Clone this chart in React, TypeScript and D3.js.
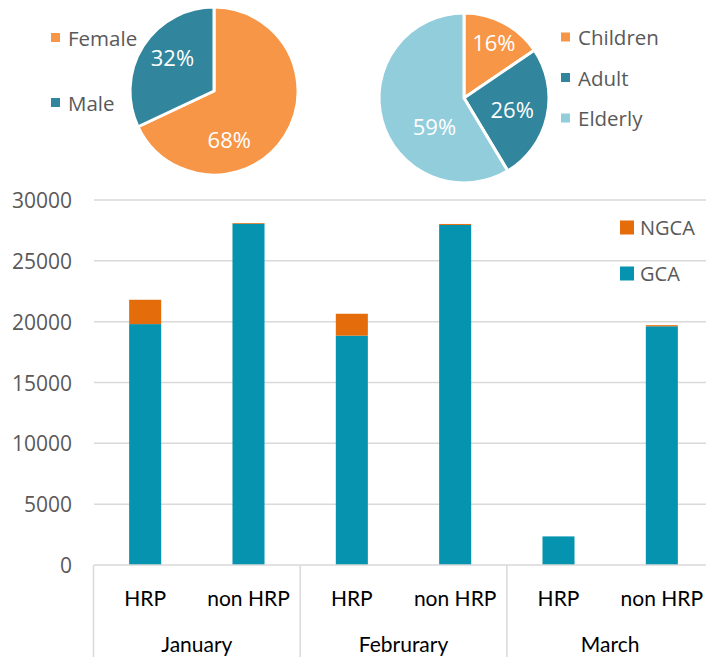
import React from "react";
import * as d3 from "d3";

// chart values
const genderLabels = ["Female", "Male"];
const genderValues = [68, 32];

const ageLabels = ["Children", "Adult", "Elderly"];
const ageValues = [15.5, 25.9, 58.6];

const months = ["January", "Februrary", "March"];
const programs = ["HRP", "non HRP"];
const gcaValues = [19800, 28050, 18850, 27950, 2350, 19620];
const ngcaValues = [2000, 60, 1800, 80, 0, 90];
const seriesNames = ["NGCA", "GCA"];
const yTicks = [0, 5000, 10000, 15000, 20000, 25000, 30000];

const W = 706;
const H = 657;
const grey = "#595959";
const gridColor = "#D9D9D9";
const valueFont = "'Open Sans', sans-serif";
const catFont = "Lato, 'Liberation Sans', sans-serif";

const pieColors = ["#F79646", "#31859C", "#92CDDC"];
const barColors = { GCA: "#0593AF", NGCA: "#E46C0A" };

// label placement (Excel's best-fit pushes some labels around)
const genderLabelPos = [
  { r: 0.6, shift: 40 },
  { r: 0.64, shift: 7 },
];
const ageLabelPos = [
  { r: 0.75, shift: 0 },
  { r: 0.58, shift: 0 },
  { r: 0.48, shift: -28 },
];

type PieProps = {
  cx: number;
  cy: number;
  r: number;
  values: number[];
  labelPos: { r: number; shift: number }[];
};

function Pie({ cx, cy, r, values, labelPos }: PieProps) {
  const arcs = d3.pie<number>().sort(null).value((d) => d)(values);
  const arc = d3.arc<d3.PieArcDatum<number>>().innerRadius(0).outerRadius(r);
  return (
    <g transform={`translate(${cx},${cy})`}>
      {arcs.map((a, i) => (
        <path key={i} d={arc(a) || ""} fill={pieColors[i]} stroke="#fff" strokeWidth={3} strokeLinejoin="round" />
      ))}
      {arcs.map((a, i) => {
        const mid = (a.startAngle + a.endAngle) / 2 + (labelPos[i].shift * Math.PI) / 180;
        const lr = r * labelPos[i].r;
        return (
          <text
            key={i}
            x={Math.sin(mid) * lr}
            y={-Math.cos(mid) * lr}
            textAnchor="middle"
            dominantBaseline="central"
            fill="#fff"
            fontFamily={valueFont}
            fontSize={22}
          >
            {d3.format(".0f")(a.data)}%
          </text>
        );
      })}
    </g>
  );
}

export default function App() {
  const cats = months.flatMap((m) => programs.map((p) => `${m}|${p}`));
  const x = d3.scaleBand<string>().domain(cats).range([93.5, 713.5]).paddingInner(0.69).paddingOuter(0.345);
  const y = d3.scaleLinear().domain([0, 30000]).range([565, 200]);
  const plotLeft = 94;
  const step = x.step();

  const stacked = d3
    .stack<number>()
    .keys(["GCA", "NGCA"])
    .value((i, key) => (key === "GCA" ? gcaValues[i] : ngcaValues[i]))(d3.range(cats.length));

  return (
    <svg width={W} height={H} style={{ position: "absolute", left: 0, top: 0, background: "#fff" }}>
      {/* pies */}
      <Pie cx={214} cy={91} r={84} values={genderValues} labelPos={genderLabelPos} />
      <Pie cx={464} cy={98} r={85} values={ageValues} labelPos={ageLabelPos} />

      {genderLabels.map((l, i) => (
        <g key={l} transform={`translate(51,${37.5 + i * 65})`}>
          <rect x={0} y={-4.5} width={9} height={9} fill={pieColors[i]} />
          <text x={17} y={0} dominantBaseline="central" fontFamily={valueFont} fontSize={20.5} fill={grey}>
            {l}
          </text>
        </g>
      ))}
      {ageLabels.map((l, i) => (
        <g key={l} transform={`translate(561,${37 + i * 40.5})`}>
          <rect x={0} y={-4.5} width={9} height={9} fill={pieColors[i]} />
          <text x={17} y={0} dominantBaseline="central" fontFamily={valueFont} fontSize={20.5} fill={grey}>
            {l}
          </text>
        </g>
      ))}

      {/* grid */}
      {yTicks.map((t) => (
        <g key={t}>
          {t > 0 && <line x1={plotLeft} x2={W} y1={y(t)} y2={y(t)} stroke={gridColor} strokeWidth={1.5} />}
          <text x={72} y={y(t)} textAnchor="end" dominantBaseline="central" fontFamily={valueFont} fontSize={21} fill={grey}>
            {t}
          </text>
        </g>
      ))}

      {/* bars */}
      {stacked.map((s) => (
        <g key={s.key} fill={barColors[s.key as "GCA" | "NGCA"]}>
          {s.map((d, i) =>
            d[1] - d[0] > 0 ? (
              <rect key={i} x={x(cats[i])} y={y(d[1])} width={x.bandwidth()} height={y(d[0]) - y(d[1])} />
            ) : null
          )}
        </g>
      ))}

      {/* category axis */}
      <line x1={plotLeft} x2={W} y1={y(0)} y2={y(0)} stroke={gridColor} strokeWidth={1.5} />
      {d3.range(months.length + 1).map((i) => {
        const xx = 93.5 + i * step * programs.length;
        return <line key={i} x1={xx} x2={xx} y1={y(0)} y2={H} stroke={gridColor} strokeWidth={1.5} />;
      })}
      {cats.map((c) => (
        <text
          key={c}
          x={(x(c) || 0) + x.bandwidth() / 2}
          y={597}
          textAnchor="middle"
          dominantBaseline="central"
          fontFamily={catFont}
          fontSize={21}
          fill="#000"
        >
          {c.split("|")[1]}
        </text>
      ))}
      {months.map((m, i) => (
        <text
          key={m}
          x={93.5 + (i + 0.5) * step * programs.length}
          y={643}
          textAnchor="middle"
          dominantBaseline="central"
          fontFamily={catFont}
          fontSize={21}
          fill="#000"
        >
          {m}
        </text>
      ))}

      {/* bar legend */}
      {seriesNames.map((n, i) => (
        <g key={n} transform={`translate(620,${227.5 + i * 46})`}>
          <rect x={0} y={-7} width={14} height={14} fill={barColors[n as "GCA" | "NGCA"]} />
          <text x={20} y={0} dominantBaseline="central" fontFamily={valueFont} fontSize={20} fill={grey}>
            {n}
          </text>
        </g>
      ))}
    </svg>
  );
}
